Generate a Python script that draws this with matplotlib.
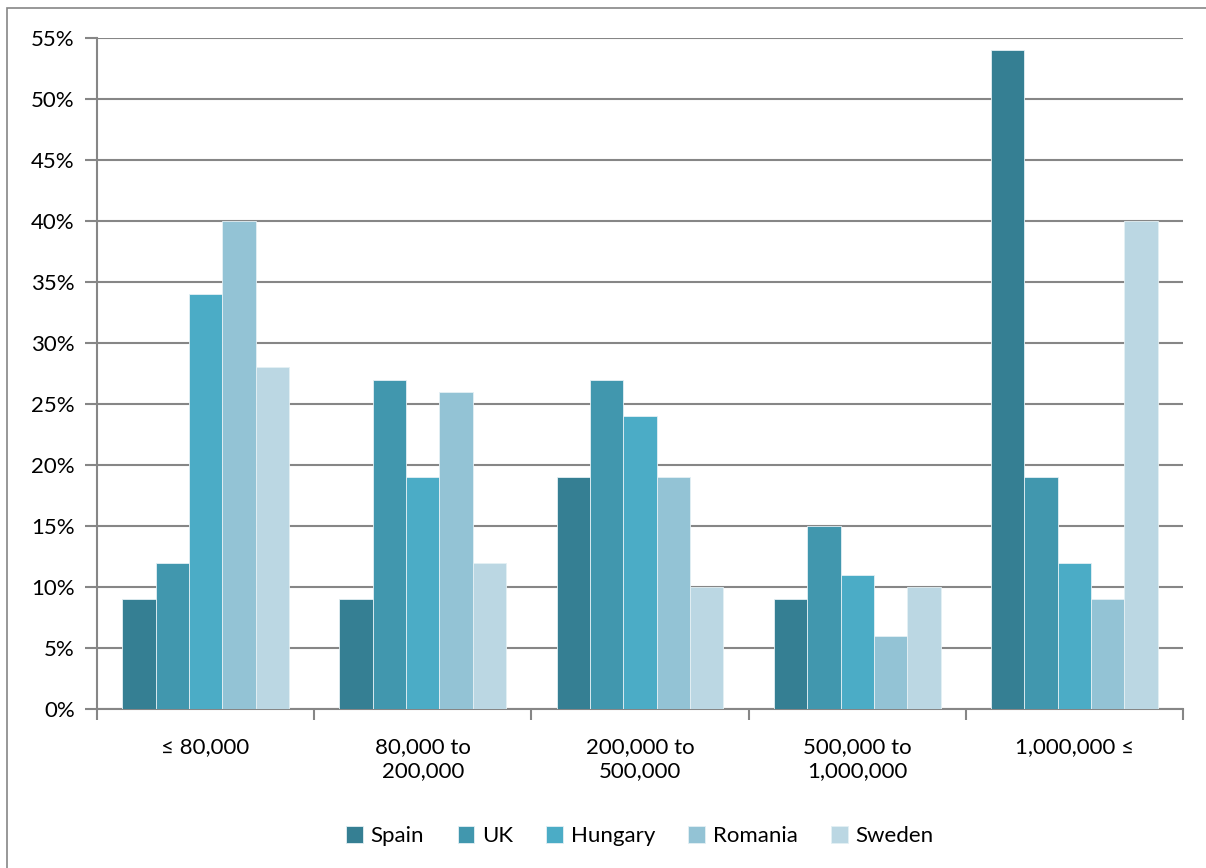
import matplotlib.pyplot as plt
import numpy as np
from matplotlib.patches import Rectangle

categories = ["\u2264 80,000", "80,000 to\n200,000", "200,000 to\n500,000",
              "500,000 to\n1,000,000", "1,000,000 \u2264"]
countries = ["Spain", "UK", "Hungary", "Romania", "Sweden"]
spain = [9, 9, 19, 9, 54]
uk = [12, 27, 27, 15, 19]
hungary = [34, 19, 24, 11, 12]
romania = [40, 26, 19, 6, 9]
sweden = [28, 12, 10, 10, 40]
colors = ["#357f93", "#4197ae", "#4bacc6", "#93c3d5", "#bbd7e3"]

plt.rcParams['font.family'] = ['Lato', 'DejaVu Sans']

fig = plt.figure(figsize=(12.06, 8.68), dpi=100)
fig.patches.append(Rectangle((7 / 1206, -0.01), 1.02, 1 - 8 / 868 + 0.01,
                             transform=fig.transFigure, fill=False,
                             edgecolor="#868686", linewidth=1.2))
ax = fig.add_axes([97 / 1206, 1 - 709 / 868, (1183 - 97) / 1206, (709 - 38) / 868])

x = np.arange(len(categories))
w = 0.1535
series = [spain, uk, hungary, romania, sweden]
for i, vals in enumerate(series):
    ax.bar(x + (i - 2) * w, vals, width=w, color=colors[i], edgecolor="#e4f0f4",
           linewidth=0.6, label=countries[i], zorder=3)

ax.set_xlim(-0.5, 4.5)
ax.set_ylim(0, 55)
ax.set_yticks(range(0, 56, 5))
ax.set_yticklabels([f"{v}%" for v in range(0, 56, 5)])
ax.grid(axis="y", color="#868686", linewidth=1.5, zorder=0)
ax.set_axisbelow(True)

for s in ["top", "right"]:
    ax.spines[s].set_visible(False)
ax.spines["left"].set_color("#868686")
ax.spines["bottom"].set_color("#868686")
ax.spines["left"].set_linewidth(1.5)
ax.spines["bottom"].set_linewidth(1.5)

ax.set_xticks(x)
ax.set_xticklabels(categories)
ax.tick_params(axis="x", length=0, pad=20, labelsize=16)
ax.set_xticks(np.arange(-0.5, 5, 1), minor=True)
ax.tick_params(axis="x", which="minor", length=8, color="#868686", width=1.5)
ax.tick_params(axis="y", length=9, color="#868686", width=1.5, pad=7, labelsize=16)
for lbl in ax.get_xticklabels():
    lbl.set_linespacing(1.3)

ax.legend(loc="upper center", bbox_to_anchor=(0.5, -0.145), ncol=5, frameon=False,
          fontsize=16, handlelength=0.75, handleheight=0.75, handletextpad=0.35,
          columnspacing=1.5)

fig.savefig("out.png", dpi=100)
